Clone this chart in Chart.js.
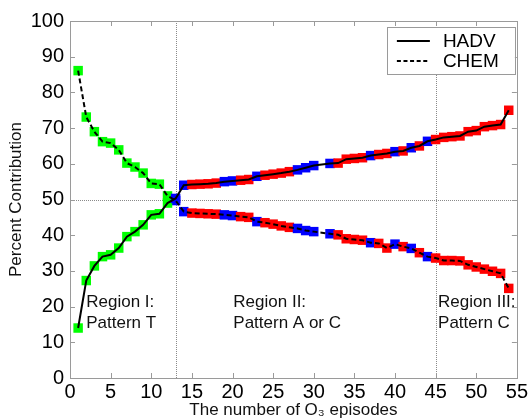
<!DOCTYPE html>
<html><head><meta charset="utf-8">
<script src="https://cdn.jsdelivr.net/npm/chart.js@4"></script>
<style>html,body{margin:0;padding:0;background:#fff}canvas{display:block}</style>
</head><body>
<canvas id="c" width="532" height="420"></canvas>
<script>
// ---- data ----
const episodes = [1,2,3,4,5,6,7,8,9,10,11,12,13,14,15,16,17,18,19,20,21,22,23,24,25,26,27,28,29,30,31,32,33,34,35,36,37,38,39,40,41,42,43,44,45,46,47,48,49,50,51,52,53,54];
const hadv = [14.0,27.3,31.4,34.0,34.5,36.4,39.6,41.0,42.9,45.7,
              46.0,49.0,50.3,54.0,54.2,54.3,54.4,54.6,55.0,55.2,
              55.4,55.6,56.5,56.8,57.1,57.4,57.8,58.3,58.9,59.5,
              59.8,60.1,60.2,61.3,61.5,61.7,62.3,62.6,62.9,63.4,
              63.6,64.5,65.0,66.3,66.8,67.4,67.6,67.8,69.0,69.3,
              70.4,70.7,71.0,75.0];
const chem = [86.1,73.1,69.0,66.2,65.8,63.9,60.2,59.1,57.4,54.5,
              54.3,51.0,49.7,46.6,46.2,46.1,46.0,45.9,45.7,45.5,
              45.2,45.0,43.8,43.5,43.1,42.6,42.2,41.9,41.3,41.0,
              40.7,40.4,40.1,39.0,38.8,38.6,37.9,37.7,36.4,37.5,
              36.8,36.3,35.1,34.0,33.6,32.9,32.9,32.8,31.7,31.1,
              30.5,29.9,29.3,25.1];
// pattern class of each episode: T (green), A (blue), C (red), none
const patterns = ['T','T','T','T','T','T','T','T','T','T','T','T',
                  'A','A','C','C','C','C','A','A','C','C','A','C','C','C','C',
                  'A','A','A','-','A','C','C','C','C','A','C','C','A','C','A','C','A',
                  'C','C','C','C','C','C','C','C','C','C'];
const xTicks = [0,5,10,15,20,25,30,35,40,45,50,55];
const yTicks = [0,10,20,30,40,50,60,70,80,90,100];
const refX = [13,45];
const refY = [50];
const seriesNames = ['HADV','CHEM'];
const regionLabels = [['Region I:','Pattern T'],['Region II:','Pattern A or C'],['Region III:','Pattern C']];
const xTitle = 'The number of O\u2083 episodes';
const yTitle = 'Percent Contribution';

// ---- styling ----
const FONT = "'Liberation Sans', Arial, Helvetica, sans-serif";
Chart.defaults.font.family = FONT;
const patternColor = {T:'#00ff00', A:'#0000ff', C:'#ff0000', '-':'rgba(0,0,0,0)'};
const ptColors = patterns.map(p => patternColor[p]);
const toXY = arr => arr.map((v,i) => ({x: episodes[i], y: v}));
const AXIS = '#9a9a9a';

const decor = {
  id: 'decor',
  beforeDatasetsDraw(chart) {
    const {ctx, chartArea: a, scales: {x, y}} = chart;
    ctx.save();
    ctx.strokeStyle = '#8a8a8a';
    ctx.lineWidth = 1;
    ctx.setLineDash([1, 1]);
    refX.forEach(v => {
      const px = Math.round(x.getPixelForValue(v)) + 0.5;
      ctx.beginPath(); ctx.moveTo(px, a.top); ctx.lineTo(px, a.bottom); ctx.stroke();
    });
    refY.forEach(v => {
      const py = Math.round(y.getPixelForValue(v)) + 0.5;
      ctx.beginPath(); ctx.moveTo(a.left, py); ctx.lineTo(a.right, py); ctx.stroke();
    });
    ctx.restore();
  },
  afterDatasetsDraw(chart) {
    const {ctx, chartArea: a, scales: {x, y}} = chart;
    ctx.save();
    // box
    ctx.strokeStyle = AXIS; ctx.lineWidth = 1; ctx.setLineDash([]);
    ctx.strokeRect(Math.round(a.left) + 0.5, Math.round(a.top) + 0.5, Math.round(a.right - a.left), Math.round(a.bottom - a.top));
    // inward ticks
    const TL = 5;
    ctx.beginPath();
    xTicks.forEach(v => {
      const px = Math.round(x.getPixelForValue(v)) + 0.5;
      ctx.moveTo(px, a.bottom); ctx.lineTo(px, a.bottom - TL);
      ctx.moveTo(px, a.top); ctx.lineTo(px, a.top + TL);
    });
    yTicks.forEach(v => {
      const py = Math.round(y.getPixelForValue(v)) + 0.5;
      ctx.moveTo(a.left, py); ctx.lineTo(a.left + TL, py);
      ctx.moveTo(a.right, py); ctx.lineTo(a.right - TL, py);
    });
    ctx.stroke();
    // region labels
    ctx.fillStyle = '#111';
    ctx.font = '17px ' + FONT;
    ctx.textBaseline = 'middle';
    ctx.textAlign = 'left';
    const regionX = [2.0, 20.1, 45.3];
    regionLabels.forEach((lines, i) => {
      const px = x.getPixelForValue(regionX[i]);
      lines.forEach((t, j) => ctx.fillText(t, px, y.getPixelForValue(21.3) + j * 21));
    });
    // legend
    const lx = a.right - 130, ly = a.top + 6, lw = 128, lh = 47;
    ctx.fillStyle = '#fff';
    ctx.fillRect(lx, ly, lw, lh);
    ctx.strokeStyle = AXIS;
    ctx.strokeRect(Math.round(lx) + 0.5, Math.round(ly) + 0.5, lw, lh);
    ctx.strokeStyle = '#000'; ctx.lineWidth = 2;
    seriesNames.forEach((name, i) => {
      const cy = ly + 14 + i * 20;
      ctx.setLineDash(i === 0 ? [] : [4, 2.6]);
      ctx.beginPath(); ctx.moveTo(lx + 10, cy); ctx.lineTo(lx + 43, cy); ctx.stroke();
      ctx.setLineDash([]);
      ctx.fillStyle = '#000';
      ctx.font = '19px ' + FONT;
      ctx.fillText(name, lx + 56, cy + 1);
    });
    ctx.restore();
  }
};

new Chart(document.getElementById('c'), {
  type: 'scatter',
  data: {
    datasets: [
      {label: seriesNames[0], data: toXY(hadv), showLine: true, borderColor: '#000', borderWidth: 2, pointRadius: 0, tension: 0, order: 0},
      {label: seriesNames[1], data: toXY(chem), showLine: true, borderColor: '#000', borderWidth: 2, borderDash: [5, 3], pointRadius: 0, tension: 0, order: 0},
      {label: seriesNames[0] + ' markers', data: toXY(hadv), showLine: false, pointStyle: 'rect', pointRadius: 6.7, pointBackgroundColor: ptColors, pointBorderWidth: 0, order: 1},
      {label: seriesNames[1] + ' markers', data: toXY(chem), showLine: false, pointStyle: 'rect', pointRadius: 6.7, pointBackgroundColor: ptColors, pointBorderWidth: 0, order: 1}
    ]
  },
  options: {
    responsive: false,
    animation: false,
    devicePixelRatio: 1,
    events: [],
    layout: {autoPadding: false, padding: {top: 21, right: 11, left: 0, bottom: 0}},
    plugins: {legend: {display: false}, tooltip: {enabled: false}},
    scales: {
      x: {
        type: 'linear', min: 0, max: 55,
        afterBuildTicks: s => { s.ticks = xTicks.map(v => ({value: v})); },
        afterFit: s => { s.height = 42; },
        grid: {display: false, drawTicks: false},
        border: {display: false},
        ticks: {color: '#000', font: {size: 20, lineHeight: 1}, padding: 4, maxRotation: 0, autoSkip: false},
        title: {display: true, text: xTitle, color: '#111', font: {size: 17, lineHeight: 1}, padding: {top: 0, bottom: 1}}
      },
      y: {
        min: 0, max: 100,
        afterBuildTicks: s => { s.ticks = yTicks.map(v => ({value: v})); },
        afterFit: s => { s.width = 70; },
        grid: {display: false, drawTicks: false},
        border: {display: false},
        ticks: {color: '#000', font: {size: 20, lineHeight: 1}, padding: 6, autoSkip: false},
        title: {display: true, text: yTitle, color: '#111', font: {size: 17, lineHeight: 1}, padding: {top: 8, bottom: 0}}
      }
    }
  },
  plugins: [decor]
});
</script>
</body></html>
